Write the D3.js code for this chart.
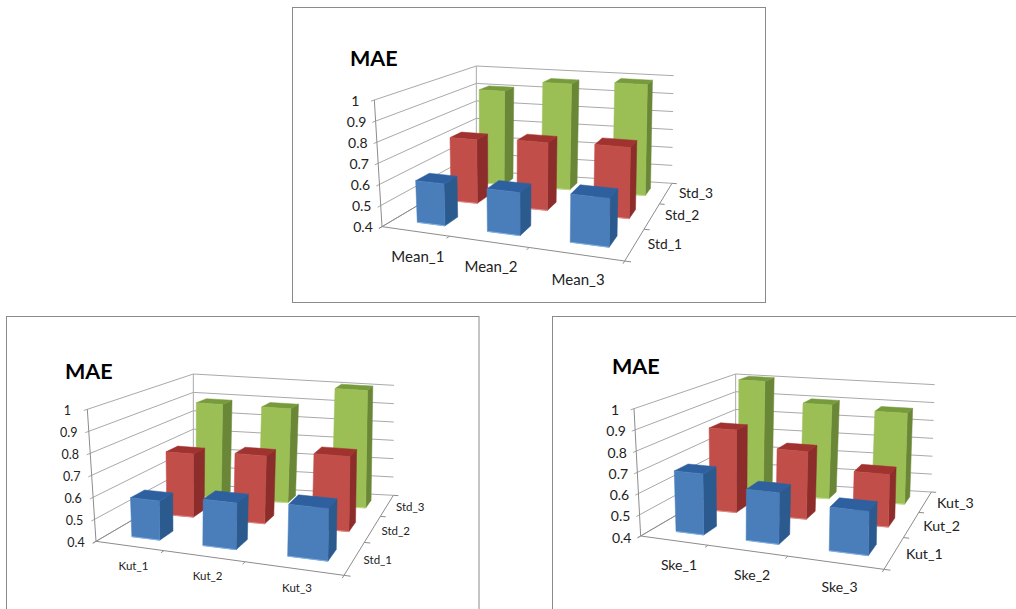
<!DOCTYPE html>
<html><head><meta charset="utf-8">
<style>html,body{margin:0;padding:0;background:#fff;overflow:hidden}svg{display:block}text{font-family:Lato,"Liberation Sans",sans-serif;fill:#222}</style>
<script src="https://cdn.jsdelivr.net/npm/d3@7/dist/d3.min.js"></script>
</head><body><svg id="c" width="1016" height="609"></svg>
<script>
// ---- data ----
const yTicks = [0.4,0.5,0.6,0.7,0.8,0.9,1];
const chartTitle = "MAE";
const meanCategories = ["Mean_1","Mean_2","Mean_3"];
const kutCategories = ["Kut_1","Kut_2","Kut_3"];
const skeCategories = ["Ske_1","Ske_2","Ske_3"];
const stdSeries = ["Std_1","Std_2","Std_3"];
const kutSeries = ["Kut_1","Kut_2","Kut_3"];
const topStd1 = [0.60,0.60,0.62];
const topStd2 = [0.725,0.74,0.75];
const topStd3 = [0.91,0.97,0.99];
const leftStd1 = [0.58,0.61,0.63];
const leftStd2 = [0.71,0.73,0.76];
const leftStd3 = [0.89,0.89,1.01];
const rightKut1 = [0.69,0.64,0.60];
const rightKut2 = [0.82,0.74,0.66];
const rightKut3 = [1.01,0.905,0.885];

// ---- layout (not data) ----
const frames = [
 {cats:meanCategories, series:stdSeries, vals:[topStd1,topStd2,topStd3], ox:292,oy:5,
  box:[292.5,7.5,473,295], floor:[[270,665],[998,768],[1140,535],[553,497]], roof:[[247,285],[1005,353],[1145,212],[553,183]],
  title:[350,66], xOff:[3.5,27], dOff:30, dOffY:1, tickDx:-19, tickDy:2, size:14, sizeX:15, sizeD:13.8},
 {cats:kutCategories, series:stdSeries, vals:[leftStd1,leftStd2,leftStd3], ox:0,oy:312,
  box:[6.5,316.5,472.5,300], floor:[[288,688],[1032,790],[1180,550],[580,517]], roof:[[262,292],[1035,362],[1182,220],[580,186]],
  title:[65,379], xOff:[5,21], dOff:23, dOffY:3, tickDx:-20, tickDy:2, size:12.5, sizeX:11.5, sizeD:11.5},
 {cats:skeCategories, series:kutSeries, vals:[rightKut1,rightKut2,rightKut3], ox:548,oy:312,
  box:[552.5,316.5,480,300], floor:[[278,672],[1008,772],[1150,540],[563,505]], roof:[[258,290],[1012,358],[1160,218],[563,186]],
  title:[612,374], xOff:[6,26], dOff:30, dOffY:3, tickDx:-19, tickDy:3, size:14, sizeX:14, sizeD:14.2}
];
const palette = [
 {front:"#4a7ebb",side:"#2b5a8e",top:"#2e60a0",edge:"#7fb0e4"},
 {front:"#c24e4a",side:"#8c2d2b",top:"#a0332f",edge:"#e08a86"},
 {front:"#9bbf55",side:"#6a8737",top:"#779a3c",edge:"#c0dc88"}
];
const svg = d3.select("#c");
const valueScale = d3.scaleLinear().domain([0.4,1]).range([0,1]);
const fmt = d3.format("~g");

function quadMap(q){
  const [[x0,y0],[x1,y1],[x2,y2],[x3,y3]] = q;
  const dx1=x1-x2,dx2=x3-x2,sx=x0-x1+x2-x3,dy1=y1-y2,dy2=y3-y2,sy=y0-y1+y2-y3;
  const det=dx1*dy2-dx2*dy1;
  const g=(sx*dy2-dx2*sy)/det,h=(dx1*sy-sx*dy1)/det;
  const a=x1-x0+g*x1,b=x3-x0+h*x3,d=y1-y0+g*y1,e=y3-y0+h*y3;
  return (u,v)=>{const w=g*u+h*v+1;return [(a*u+b*v+x0)/w,(d*u+e*v+y0)/w];};
}

frames.forEach(f=>{
  const g = svg.append("g");
  g.append("rect").attr("x",f.box[0]).attr("y",f.box[1]).attr("width",f.box[2]).attr("height",f.box[3])
    .attr("fill","#fff").attr("stroke","#8a8a8a");
  const toPx=p=>[p[0]/3+f.ox,p[1]/3+f.oy];
  const fl=quadMap(f.floor.map(toPx)), rf=quadMap(f.roof.map(toPx));
  const P=(u,v,val)=>{const t=valueScale(val),a=fl(u,v),b=rf(u,v);return [a[0]+(b[0]-a[0])*t,a[1]+(b[1]-a[1])*t];};
  const xBand=d3.scaleBand().domain(f.cats).range([0,1]).paddingInner(0.585).paddingOuter(0.2925).align(0.62);
  const zBand=d3.scaleBand().domain(f.series).range([0,1]).paddingInner(0.63).paddingOuter(0.315);
  const line=(a,b,col)=>g.append("line").attr("x1",a[0]).attr("y1",a[1]).attr("x2",b[0]).attr("y2",b[1]).attr("stroke",col).attr("stroke-width",1);
  const gridCol="#a9a9a9", axisCol="#8c8c8c";
  yTicks.forEach(t=>{
    line(P(0,-0.025,t),P(0,1,t),gridCol);
    line(P(0,1,t),P(1,1,t),gridCol);
    const p=P(0,0,t);
    g.append("text").attr("x",p[0]+f.tickDx).attr("y",p[1]+f.tickDy).attr("text-anchor","middle").attr("dominant-baseline","middle")
      .attr("font-size",f.size).text(fmt(t));
  });
  line(P(0,0,0.4),P(0,0,1),axisCol);
  line(P(0,1,0.4),P(0,1,1),gridCol);
  line(P(0,0,0.4),P(1,0,0.4),axisCol);
  line(P(1,0,0.4),P(1,1,0.4),axisCol);
  line(P(0,0,0.4),P(0,1,0.4),axisCol);
  d3.range(4).forEach(k=>{
    line(P(k/3,0,0.4),P(k/3,-0.025,0.4),axisCol);
    line(P(1,k/3,0.4),P(1.02,k/3,0.4),axisCol);
  });
  // bars, back row first
  d3.range(2,-1,-1).forEach(si=>{
    const col=palette[si], name=f.series[si];
    f.vals[si].forEach((val,ci)=>{
      const u0=xBand(f.cats[ci]),u1=u0+xBand.bandwidth();
      const v0=zBand(name),v1=v0+zBand.bandwidth();
      const poly=(pts,fill)=>g.append("polygon").attr("points",pts.map(p=>p.join(",")).join(" ")).attr("fill",fill).attr("stroke",fill).attr("stroke-width",0.5);
      poly([P(u1,v0,0.4),P(u1,v1,0.4),P(u1,v1,val),P(u1,v0,val)],col.side);
      poly([P(u0,v0,val),P(u1,v0,val),P(u1,v1,val),P(u0,v1,val)],col.top);
      poly([P(u0,v0,0.4),P(u1,v0,0.4),P(u1,v0,val),P(u0,v0,val)],col.front);
      const a=P(u0,v0,0.4),b=P(u1,v0,0.4);
      g.append("line").attr("x1",a[0]).attr("y1",a[1]).attr("x2",b[0]).attr("y2",b[1]).attr("stroke",col.edge).attr("stroke-width",1);
    });
  });
  // category labels
  f.cats.forEach((c,i)=>{
    const p=P((i+0.5)/3,0,0.4);
    g.append("text").attr("x",p[0]+f.xOff[0]).attr("y",p[1]+f.xOff[1]).attr("text-anchor","middle").attr("dominant-baseline","middle").attr("font-size",f.sizeX).text(c);
  });
  f.series.forEach(s=>{
    const p=P(1,zBand(s)+zBand.bandwidth()/2,0.4);
    g.append("text").attr("x",p[0]+f.dOff).attr("y",p[1]+f.dOffY).attr("text-anchor","middle").attr("dominant-baseline","middle").attr("font-size",f.sizeD).text(s);
  });
  g.append("text").attr("x",f.title[0]).attr("y",f.title[1]).attr("font-size",21.5).attr("font-weight",700).style("fill","#000").text(chartTitle);
});
</script></body></html>
